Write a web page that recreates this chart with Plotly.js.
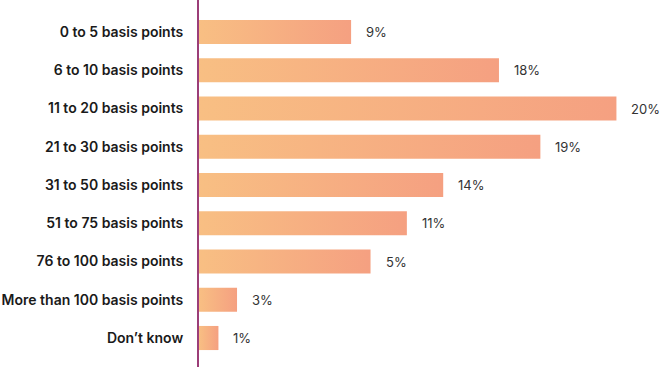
<!DOCTYPE html>
<html><head><meta charset="utf-8">
<script src="https://cdn.plot.ly/plotly-3.0.1.min.js"></script>
<style>html,body{margin:0;padding:0;background:#fff}#chart{width:661px;height:367px}</style>
</head><body><div id="chart"></div>
<script>
var categories = ["0 to 5 basis points","6 to 10 basis points","11 to 20 basis points","21 to 30 basis points","31 to 50 basis points","51 to 75 basis points","76 to 100 basis points","More than 100 basis points","Don\u2019t know"];
// bar lengths as drawn in the picture (they are not proportional to the printed labels)
var barLengths = [9.0, 17.75, 24.7, 20.2, 14.45, 12.3, 10.15, 2.25, 1.15];
var valueLabels = ["9%","18%","20%","19%","14%","11%","5%","3%","1%"];

var trace = {
  type: "bar", orientation: "h",
  x: barLengths, y: categories,
  marker: {color: "#F6AE81", line: {width: 0}},
  hoverinfo: "skip"
};
var annotations = categories.map(function(c, i){
  return {x: barLengths[i], y: c, xref: "x", yref: "y", text: valueLabels[i],
    showarrow: false, xanchor: "left", yanchor: "middle", xshift: 13,
    font: {family: "Inter, 'Open Sans', sans-serif", size: 13, color: "#333333"}};
});
var pxPerUnit = 16.9;
var layout = {
  width: 661, height: 367,
  margin: {l: 199, r: 0, t: 0, b: 0},
  paper_bgcolor: "#fff", plot_bgcolor: "#fff",
  showlegend: false,
  bargap: 0.37,
  xaxis: {range: [0, 462 / pxPerUnit], visible: false, fixedrange: true},
  yaxis: {type: "category", range: [8.758, -0.837], showline: true, linecolor: "#9B3D78", linewidth: 2,
    showgrid: false, zeroline: false, ticks: "", ticklabelstandoff: 11,
    tickfont: {family: "Inter, 'Open Sans', sans-serif", size: 14, color: "#1a1a1a", weight: 600}},
  annotations: annotations
};
Plotly.newPlot("chart", [trace], layout, {staticPlot: true, displayModeBar: false}).then(function(gd){
  var svg = gd.querySelector("svg.main-svg");
  var ns = "http://www.w3.org/2000/svg";
  var defs = svg.querySelector("defs") || svg.insertBefore(document.createElementNS(ns, "defs"), svg.firstChild);
  var g = document.createElementNS(ns, "linearGradient");
  g.setAttribute("id", "barGrad"); g.setAttribute("x1", "0"); g.setAttribute("x2", "1"); g.setAttribute("y1", "0"); g.setAttribute("y2", "0");
  [["0", "#F8BF83"], ["1", "#F5A081"]].forEach(function(s){
    var st = document.createElementNS(ns, "stop"); st.setAttribute("offset", s[0]); st.setAttribute("stop-color", s[1]); g.appendChild(st);
  });
  defs.appendChild(g);
  gd.querySelectorAll(".bars .point path").forEach(function(p){ p.style.fill = "url(#barGrad)"; });
});
</script></body></html>
